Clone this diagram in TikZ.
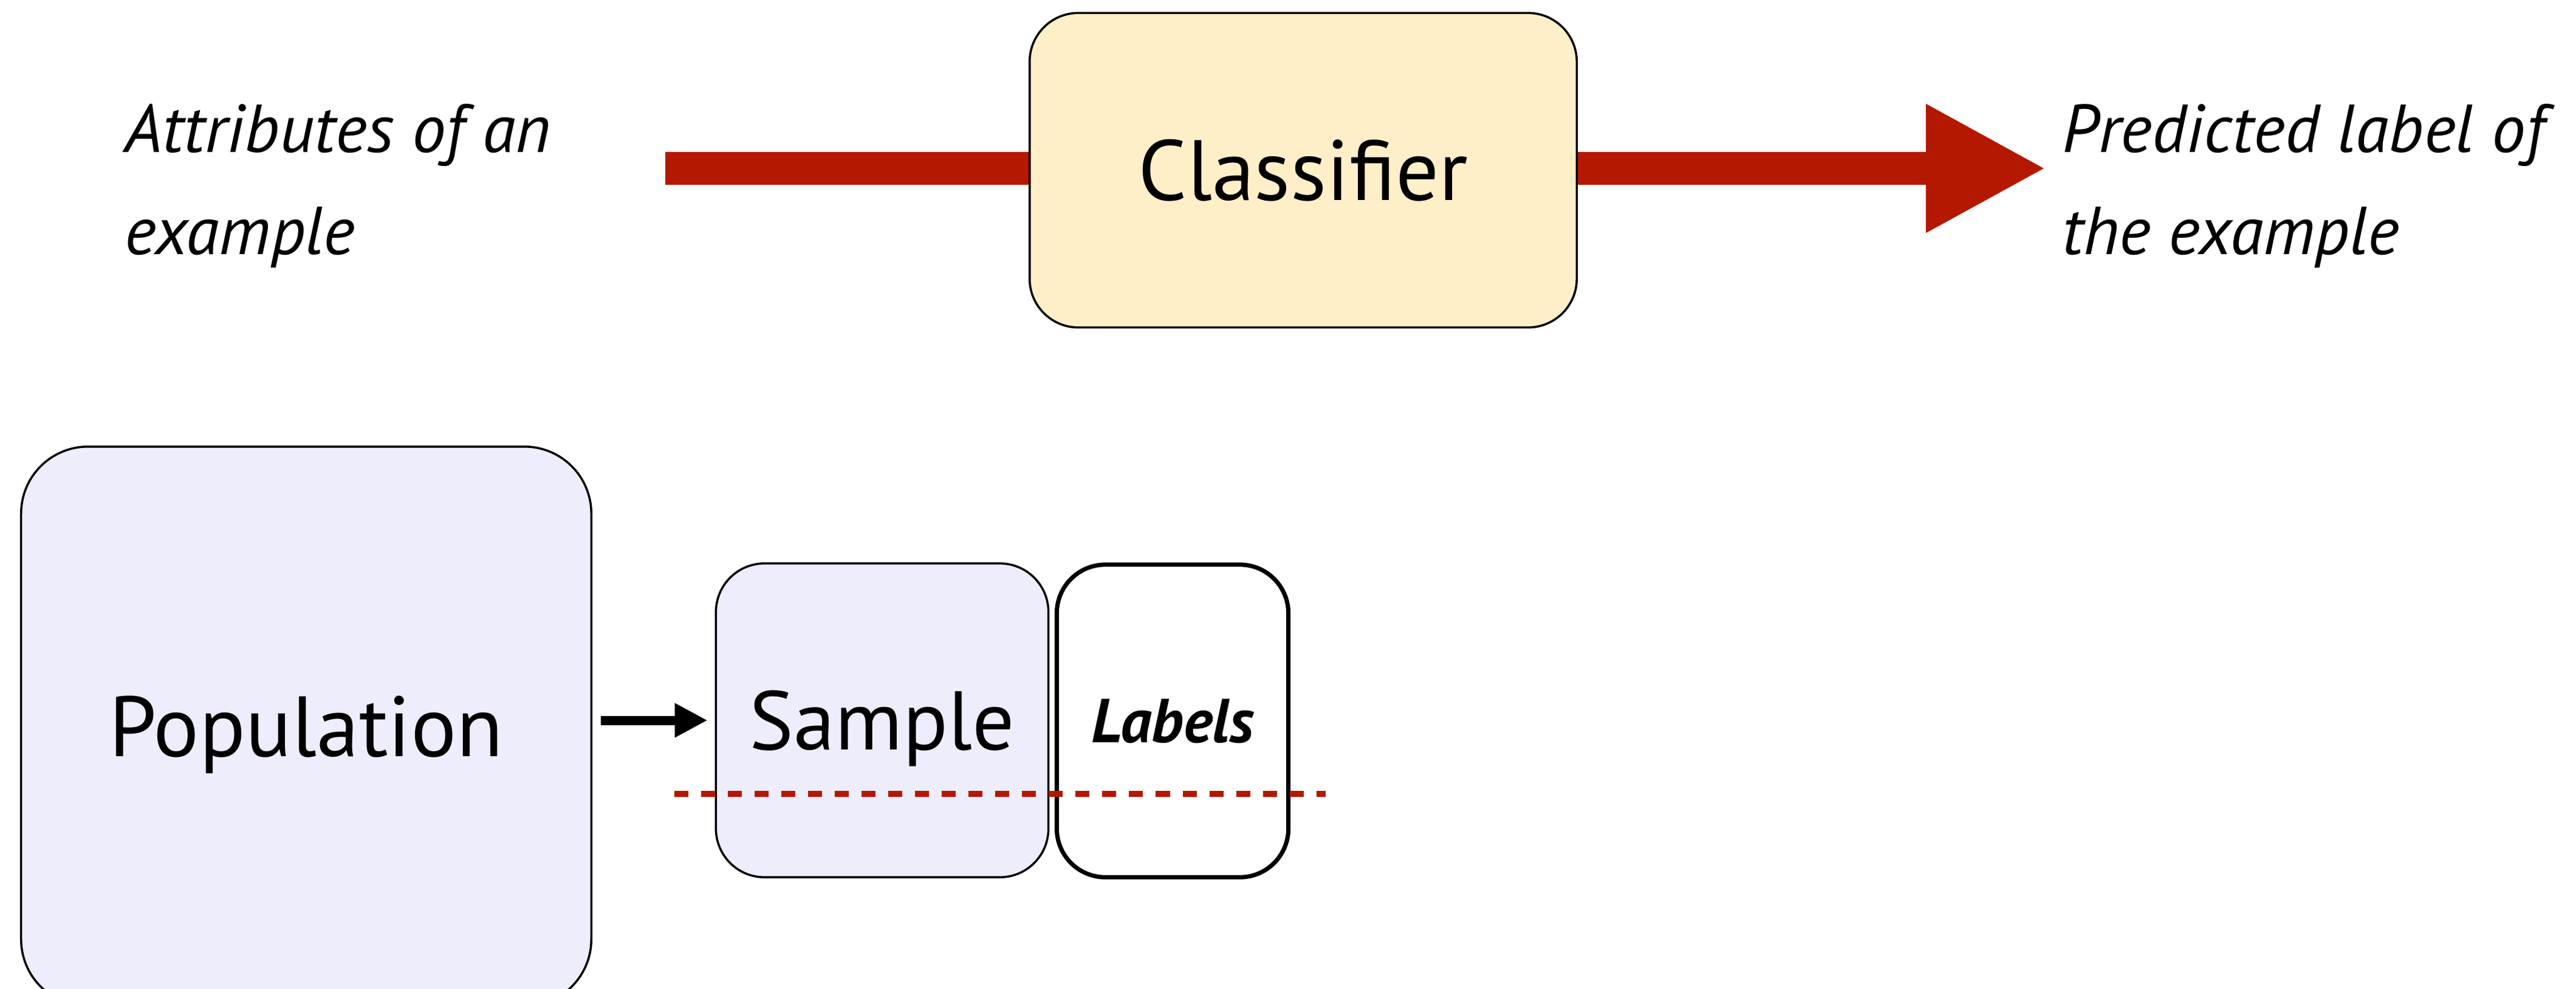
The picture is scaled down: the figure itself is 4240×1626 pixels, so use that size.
\documentclass[tikz,border=0pt]{standalone}
\usepackage{fontspec}
\setmainfont{PT Sans}
\usetikzlibrary{arrows.meta}
\definecolor{arrowred}{RGB}{181,24,0}
\definecolor{clfyellow}{RGB}{255,239,201}
\definecolor{lavender}{RGB}{237,237,252}
\begin{document}
\begin{tikzpicture}[x=0.01cm,y=-0.01cm,
  box/.style={draw=black,rounded corners=0.8cm,inner sep=0pt,text depth=0pt},
  clfbox/.style={box,fill=clfyellow,line width=1pt,minimum width=9.0cm,minimum height=5.17cm,text height=28pt,font=\fontsize{40pt}{48pt}\selectfont},
  popbox/.style={box,rounded corners=1.1cm,fill=lavender,line width=1pt,minimum width=9.38cm,minimum height=9.2cm,text height=28pt,font=\fontsize{40pt}{48pt}\selectfont},
  sampbox/.style={box,fill=lavender,line width=1pt,minimum width=5.47cm,minimum height=5.16cm,text height=27.3pt,font=\fontsize{39pt}{48pt}\selectfont},
  labbox/.style={box,fill=white,line width=2pt,minimum width=3.81cm,minimum height=5.14cm,text height=20.3pt,font=\fontsize{29pt}{36pt}\selectfont\bfseries\itshape},
  sidetext/.style={align=left,inner sep=0pt,font=\fontsize{31.7pt}{47.8pt}\selectfont\itshape},
  redline/.style={draw=arrowred,line width=0.54cm},
  bigtip/.style={-{Triangle[length=1.98cm,width=1.97cm]}},
  blackarrow/.style={draw=black,line width=0.15cm,-{Triangle[length=0.54cm,width=0.53cm]}},
  splitline/.style={draw=arrowred,line width=0.1cm,dash pattern=on 0.23cm off 0.21cm}
]
\useasboundingbox (0,0) rectangle (4240,1626);
% top row
\node[clfbox] (clf) at (2145,280) {Classifier};
\node[sidetext,anchor=west] (attr) at (205,306) {Attributes of an\\example};
\node[sidetext,anchor=west] (pred) at (3394,306) {Predicted label of\\the example};
\coordinate (a1) at (1095,277);
\coordinate (a2) at (3368,277);
\draw[redline] (a1) -- (clf.west |- a1);
\draw[redline,bigtip] (clf.east |- a2) -- (a2);
% bottom row
\node[popbox] (pop) at (504,1195) {Population};
\node[sampbox] (samp) at (1452,1185) {Sample};
\node[labbox] (lab) at (1930,1186) {Labels};
\draw[blackarrow,shorten <=0.14cm,shorten >=0.12cm] (pop.east |- samp.west) -- (samp.west);
\coordinate (d1) at (1110,1306);
\coordinate (d2) at (2182,1306);
\draw[splitline] (d1) -- (d2);
\end{tikzpicture}
\end{document}
